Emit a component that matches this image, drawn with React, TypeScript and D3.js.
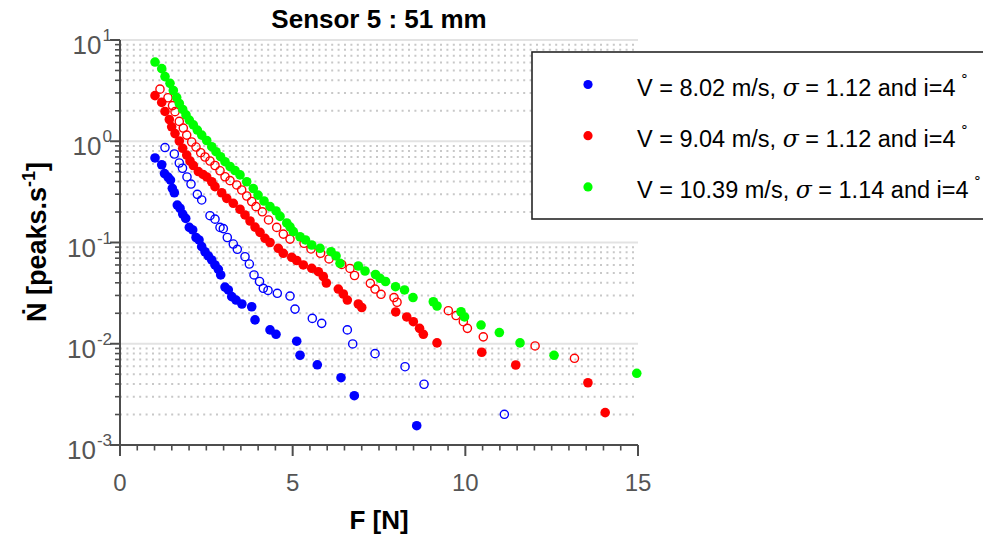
import React from 'react';
import * as d3 from 'd3';

// ---- data ----
const blueFilledF = [1.014, 1.208, 1.289, 1.39, 1.462, 1.515, 1.573, 1.659, 1.738, 1.816, 1.903, 2.007, 2.105, 2.201, 2.288, 2.366, 2.462, 2.557, 2.656, 2.751, 2.847, 2.916, 3.041, 3.136, 3.235, 3.36, 3.53, 3.814, 3.91, 4.344, 4.518, 5.117, 5.213, 5.714, 6.4, 6.785, 8.592];
const blueFilledN = [0.684, 0.586, 0.48, 0.443, 0.414, 0.343, 0.31, 0.234, 0.218, 0.191, 0.173, 0.141, 0.133, 0.112, 0.106, 0.091, 0.081, 0.0736, 0.0672, 0.06, 0.0543, 0.0478, 0.0363, 0.034, 0.0292, 0.027, 0.0247, 0.0232, 0.0172, 0.0137, 0.0124, 0.0106, 0.0077, 0.0062, 0.00462, 0.00307, 0.00155];

const blueOpenF = [1.303, 1.573, 1.717, 1.81, 1.94, 2.056, 2.239, 2.366, 2.606, 2.751, 2.896, 2.992, 3.107, 3.281, 3.397, 3.62, 3.745, 3.881, 4.04, 4.15, 4.286, 4.555, 4.923, 5.068, 5.569, 5.841, 6.583, 6.739, 7.385, 8.254, 8.804, 11.13];
const blueOpenN = [0.867, 0.748, 0.61, 0.541, 0.444, 0.378, 0.299, 0.263, 0.184, 0.17, 0.141, 0.137, 0.112, 0.0966, 0.0857, 0.0724, 0.0613, 0.0478, 0.0412, 0.0353, 0.0336, 0.0315, 0.0296, 0.022, 0.0178, 0.0159, 0.0137, 0.00995, 0.00798, 0.00593, 0.00398, 0.00201];

const redFilledF = [1.014, 1.208, 1.303, 1.428, 1.497, 1.593, 1.717, 1.816, 1.932, 2.027, 2.123, 2.268, 2.404, 2.511, 2.656, 2.751, 2.945, 3.09, 3.281, 3.475, 3.62, 3.765, 3.91, 4.054, 4.199, 4.344, 4.584, 4.729, 4.973, 5.117, 5.308, 5.552, 5.743, 5.888, 5.975, 6.322, 6.467, 6.583, 6.901, 7.0, 7.984, 8.303, 8.494, 8.674, 8.784, 9.18, 10.475, 11.46, 13.55, 14.05];
const redFilledN = [2.82, 2.42, 1.97, 1.64, 1.39, 1.19, 1.006, 0.852, 0.731, 0.638, 0.576, 0.502, 0.47, 0.444, 0.398, 0.356, 0.31, 0.273, 0.244, 0.213, 0.187, 0.163, 0.142, 0.126, 0.11, 0.1, 0.0877, 0.0782, 0.0714, 0.0664, 0.06, 0.0556, 0.0515, 0.046, 0.0398, 0.0347, 0.031, 0.027, 0.0247, 0.0228, 0.0206, 0.0184, 0.0165, 0.0142, 0.0124, 0.0102, 0.00824, 0.00617, 0.00412, 0.00209];

const redOpenF = [1.158, 1.39, 1.52, 1.593, 1.717, 1.833, 1.932, 2.076, 2.201, 2.337, 2.462, 2.606, 2.751, 2.896, 3.041, 3.186, 3.38, 3.524, 3.669, 3.814, 3.939, 4.121, 4.301, 4.538, 4.729, 4.923, 5.329, 5.531, 5.807, 6.053, 6.421, 6.661, 6.791, 7.249, 7.385, 7.559, 7.935, 8.022, 9.508, 9.731, 9.942, 10.06, 10.52, 12.02, 13.16];
const redOpenN = [3.27, 2.69, 2.25, 1.96, 1.57, 1.35, 1.15, 0.983, 0.877, 0.771, 0.699, 0.638, 0.576, 0.511, 0.446, 0.408, 0.37, 0.33, 0.288, 0.254, 0.226, 0.201, 0.167, 0.141, 0.121, 0.108, 0.0983, 0.0863, 0.0783, 0.0688, 0.0607, 0.0554, 0.0472, 0.0395, 0.0347, 0.0308, 0.0286, 0.0257, 0.0212, 0.019, 0.0165, 0.0142, 0.0117, 0.00951, 0.00718];

const greenFilledF = [1.014, 1.208, 1.303, 1.448, 1.544, 1.642, 1.717, 1.816, 1.911, 2.007, 2.123, 2.239, 2.366, 2.511, 2.656, 2.78, 2.911, 3.041, 3.186, 3.33, 3.475, 3.669, 3.86, 3.997, 4.17, 4.344, 4.518, 4.634, 4.828, 4.923, 5.019, 5.213, 5.372, 5.552, 5.792, 6.111, 6.255, 6.371, 6.901, 7.095, 7.399, 7.53, 7.689, 7.979, 8.239, 8.485, 9.073, 9.18, 9.875, 9.977, 10.455, 10.985, 11.584, 12.569, 14.964];
const greenFilledN = [6.06, 5.21, 4.35, 3.73, 3.17, 2.7, 2.36, 2.06, 1.82, 1.62, 1.45, 1.29, 1.15, 1.017, 0.883, 0.788, 0.704, 0.628, 0.563, 0.514, 0.465, 0.398, 0.341, 0.294, 0.257, 0.226, 0.205, 0.181, 0.156, 0.143, 0.128, 0.114, 0.106, 0.0945, 0.0877, 0.0811, 0.0736, 0.0623, 0.0586, 0.0523, 0.0483, 0.0443, 0.0412, 0.0366, 0.034, 0.0286, 0.026, 0.0236, 0.0207, 0.0184, 0.0153, 0.0129, 0.0102, 0.00769, 0.00511];

const legendVelocity = ['8.02', '9.04', '10.39'];
const legendSigma = ['1.12', '1.12', '1.14'];
const legendColors = ['#0000ff', '#ff0000', '#00ff00'];

const xTicks = [0, 5, 10, 15];
const yDecades = [-3, -2, -1, 0, 1];

const FONT = 'Liberation Sans, Arial, Helvetica, sans-serif';

export default function App() {
  const W = 983, H = 537;
  const x = d3.scaleLinear().domain([0, 15]).range([120, 638]);
  const y = d3.scaleLog().domain([1e-3, 10]).range([445, 40]);

  const minorY: number[] = [];
  for (let d = -3; d < 1; d++) for (let k = 2; k <= 9; k++) minorY.push(k * Math.pow(10, d));
  const minorX = d3.range(0, 15.001, 0.5).filter((v) => v % 5 !== 0);

  const filled = (F: number[], N: number[], c: string) =>
    F.map((f, i) => <circle key={c + 'f' + i} cx={x(f)} cy={y(N[i])} r={4.8} fill={c} />);
  const open = (F: number[], N: number[], c: string) =>
    F.map((f, i) => <circle key={c + 'o' + i} cx={x(f)} cy={y(N[i])} r={4.1} fill="none" stroke={c} strokeWidth={1.4} />);

  const axisColor = '#4d4d4d';
  const tickColor = '#555555';

  return (
    <svg width={W} height={H} style={{ position: 'absolute', left: 0, top: 0, background: '#fff' }} fontFamily={FONT}>
      <rect x={0} y={0} width={W} height={H} fill="#fff" />
      {/* minor gridlines */}
      {minorY.map((v, i) => (
        <line key={'mg' + i} x1={x(0)} x2={x(15)} y1={y(v)} y2={y(v)} stroke="#c8c8c8" strokeWidth={2} strokeDasharray="2 4.4" />
      ))}
      {/* major gridlines */}
      {yDecades.map((d) => (
        <line key={'Mg' + d} x1={x(0)} x2={x(15)} y1={y(Math.pow(10, d))} y2={y(Math.pow(10, d))} stroke="#e3e3e3" strokeWidth={2} />
      ))}

      {/* data */}
      {open(blueOpenF, blueOpenN, '#0000ff')}
      {open(redOpenF, redOpenN, '#ff0000')}
      {filled(blueFilledF, blueFilledN, '#0000ff')}
      {filled(redFilledF, redFilledN, '#ff0000')}
      {filled(greenFilledF, greenFilledN, '#00ff00')}

      {/* axes */}
      <line x1={x(0)} x2={x(0)} y1={y(10)} y2={y(1e-3)} stroke={axisColor} strokeWidth={2} />
      <line x1={x(0)} x2={x(15)} y1={y(1e-3)} y2={y(1e-3)} stroke={axisColor} strokeWidth={2} />
      {yDecades.map((d) => (
        <line key={'yt' + d} x1={x(0) - 10} x2={x(0)} y1={y(Math.pow(10, d))} y2={y(Math.pow(10, d))} stroke={axisColor} strokeWidth={2} />
      ))}
      {minorY.map((v, i) => (
        <line key={'ymt' + i} x1={x(0) - 5} x2={x(0)} y1={y(v)} y2={y(v)} stroke={axisColor} strokeWidth={1.6} />
      ))}
      {xTicks.map((t) => (
        <line key={'xt' + t} x1={x(t)} x2={x(t)} y1={y(1e-3)} y2={y(1e-3) + 11} stroke={axisColor} strokeWidth={2} />
      ))}
      {minorX.map((t, i) => (
        <line key={'xmt' + i} x1={x(t)} x2={x(t)} y1={y(1e-3)} y2={y(1e-3) + 5.5} stroke={axisColor} strokeWidth={1.6} />
      ))}

      {/* tick labels */}
      {xTicks.map((t) => (
        <text key={'xl' + t} x={x(t)} y={y(1e-3) + 46} textAnchor="middle" fontSize={24} fill={tickColor}>{t}</text>
      ))}
      {yDecades.map((d) => (
        <text key={'yl' + d} x={112} y={y(Math.pow(10, d)) + 14} textAnchor="end" fontSize={26} fill={tickColor}>
          10<tspan dx={1} dy={-13} fontSize={17}>{d}</tspan>
        </text>
      ))}

      {/* title and labels */}
      <text x={379} y={28} textAnchor="middle" fontSize={26} fontWeight="bold" fill="#000">Sensor 5 : 51 mm</text>
      <text x={379} y={529} textAnchor="middle" fontSize={26} fontWeight="bold" fill="#000">F [N]</text>
      <text transform="translate(46,242) rotate(-90)" textAnchor="middle" fontSize={27} fontWeight="bold" fill="#000">
        {'\u1E44 [peaks.s'}<tspan dy={-11} fontSize={18}>-1</tspan><tspan dy={11}>]</tspan>
      </text>

      {/* legend */}
      <rect x={532} y={52} width={470} height={167} fill="#fff" stroke="#262626" strokeWidth={1.6} />
      {legendVelocity.map((v, i) => {
        const cy = 84.5 + i * 51.2;
        return (
          <g key={'lg' + i}>
            <circle cx={588} cy={cy} r={4.6} fill={legendColors[i]} />
            <text x={637} y={cy + 11} fontSize={23.5} fill="#000">
              {`V = ${v} m/s, `}
              <tspan fontStyle="italic" fontFamily="DejaVu Serif, Liberation Serif, serif">σ</tspan>
              {` = ${legendSigma[i]} and i=4`}
              <tspan dx={4} dy={-16} fontSize={14}>∘</tspan>
            </text>
          </g>
        );
      })}
    </svg>
  );
}
